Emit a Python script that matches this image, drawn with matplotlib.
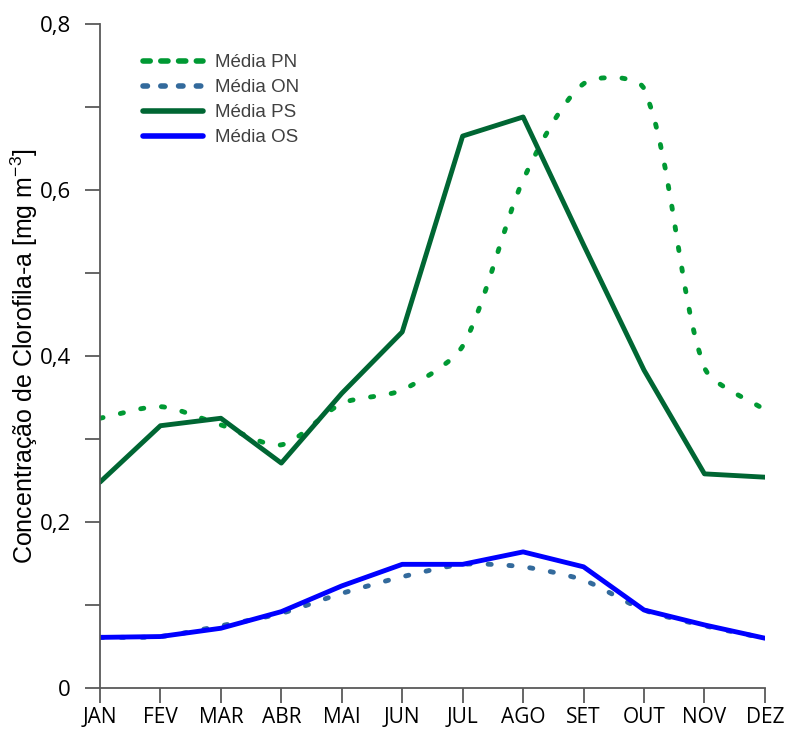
import matplotlib.pyplot as plt
from matplotlib.path import Path
from matplotlib.patches import PathPatch
from matplotlib.lines import Line2D
import numpy as np

plt.rcParams['mathtext.fontset'] = 'custom'
plt.rcParams['mathtext.rm'] = 'Liberation Sans'

#############################################
# DATA
#############################################

months = ['JAN', 'FEV', 'MAR', 'ABR', 'MAI', 'JUN', 'JUL', 'AGO', 'SET', 'OUT', 'NOV', 'DEZ']
media_pn = [0.325, 0.339, 0.317, 0.293, 0.343, 0.359, 0.412, 0.612, 0.728, 0.722, 0.386, 0.335]
media_on = [0.061, 0.062, 0.075, 0.090, 0.114, 0.134, 0.149, 0.146, 0.130, 0.094, 0.075, 0.060]
media_ps = [0.248, 0.316, 0.325, 0.271, 0.355, 0.429, 0.665, 0.688, 0.534, 0.383, 0.258, 0.254]
media_os = [0.061, 0.062, 0.072, 0.092, 0.123, 0.149, 0.149, 0.164, 0.146, 0.094, 0.076, 0.060]

yticks = [0, 0.2, 0.4, 0.6, 0.8]
ytick_labels = ['0', '0,2', '0,4', '0,6', '0,8']

c_pn = '#009933'
c_on = '#336a9c'
c_ps = '#006633'
c_os = '#0000ff'


#############################################
# FUNCTIONS
#############################################


def smooth_path(ax, x, y, t=0.25):
    # excel-like smoothed line, control points scaled by segment length on screen
    pts = ax.transData.transform(np.column_stack([x, y]).astype(float))
    n = len(pts)
    verts = [pts[0]]
    codes = [Path.MOVETO]
    for i in range(n - 1):
        p0 = pts[i - 1] if i > 0 else pts[i]
        p1 = pts[i]
        p2 = pts[i + 1]
        p3 = pts[i + 2] if i + 2 < n else pts[i + 1]
        seg = np.hypot(*(p2 - p1))
        d1 = (p2 - p0) / np.hypot(*(p2 - p0))
        d2 = (p3 - p1) / np.hypot(*(p3 - p1))
        c1 = p1 + d1 * seg * t
        c2 = p2 - d2 * seg * t
        verts += [c1, c2, p2]
        codes += [Path.CURVE4] * 3
    verts = ax.transData.inverted().transform(np.array(verts))
    return Path(verts, codes)


def dotted_curve(ax, x, y, color):
    patch = PathPatch(smooth_path(ax, x, y), fill=False, edgecolor=color, lw=3.5,
                      linestyle=(0, (0.65, 3.65)), capstyle='round', joinstyle='round')
    ax.add_patch(patch)


#############################################
# PLOT
#############################################

fig = plt.figure(figsize=(7.91, 7.32), dpi=100)
ax = fig.add_axes([0.1264, 0.0601, 0.8406, 0.9071])
ax.set_xlim(0, 11)
ax.set_ylim(0, 0.8)

x = np.arange(len(months))

dotted_curve(ax, x, media_pn, c_pn)
dotted_curve(ax, x, media_on, c_on)
ax.plot(x, media_ps, color=c_ps, lw=3.5, solid_capstyle='round')
ax.plot(x, media_os, color=c_os, lw=3.5, solid_capstyle='round')

ax.set_xticks(x)
ax.set_xticklabels(months, fontsize=15, family='Open Sans')
ax.set_yticks(yticks)
ax.set_yticklabels(ytick_labels, fontsize=16, family='Open Sans')
ax.set_yticks(np.arange(0.1, 0.8, 0.2), minor=True)
ax.tick_params(axis='both', which='both', direction='out', length=11, width=1.3,
               color='#595959')
ax.tick_params(axis='x', pad=3)
ax.tick_params(axis='y', pad=10)
ax.spines['top'].set_visible(False)
ax.spines['right'].set_visible(False)
for s in ['left', 'bottom']:
    ax.spines[s].set_color('#595959')
    ax.spines[s].set_linewidth(1.3)

ax.set_ylabel('Concentração de Clorofila-a [mg m$^{\\mathregular{-3}}$]', fontsize=18,
              family='Liberation Sans', labelpad=0)

handles = [
    Line2D([], [], color=c_pn, lw=4, linestyle=(0, (1.3, 1.9)), dash_capstyle='round'),
    Line2D([], [], color=c_on, lw=4, linestyle=(0, (0.8, 2.4)), dash_capstyle='round'),
    Line2D([], [], color=c_ps, lw=4, solid_capstyle='round'),
    Line2D([], [], color=c_os, lw=4, solid_capstyle='round'),
]
ax.legend(handles, ['Média PN', 'Média ON', 'Média PS', 'Média OS'], loc='upper left',
          bbox_to_anchor=(0.04, 0.98), frameon=False, handlelength=3.2, handletextpad=0.6,
          labelspacing=0.42, prop={'family': 'Liberation Sans', 'size': 13.5},
          labelcolor='#404040')

fig.savefig('out.png', dpi=100)
